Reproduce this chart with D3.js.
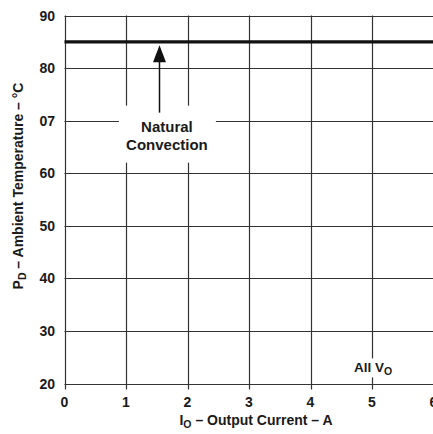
<!DOCTYPE html>
<html><head><meta charset="utf-8">
<script src="https://cdn.jsdelivr.net/npm/d3@7"></script>
<style>body{margin:0;background:#fff}svg{display:block}text{font-family:"Liberation Sans",Arial,Helvetica,sans-serif;font-weight:bold;fill:#1a1a1a}</style>
</head><body><svg id="c" width="433" height="434"></svg>
<script>
const xTicks = [0,1,2,3,4,5,6];
const xTickLabels = ["0","1","2","3","4","5","6"];
const yTicks = [20,30,40,50,60,70,80,90];
const yTickLabels = ["20","30","40","50","60","07","80","90"];
const seriesX = [0,6];
const seriesY = [85,85];
const annotX = 1.6, annotYText = 70, annotYTip = 85;
const annotLines = ["Natural","Convection"];
const allVoX = 5.05, allVoY = 22.3;

const svg = d3.select("#c");
const x = d3.scaleLinear().domain([0,6]).range([64.5,433.5]);
const y = d3.scaleLinear().domain([20,90]).range([383.5,15.5]);

// grid
const g = svg.append("g");
g.selectAll(".vx").data(xTicks).join("line")
  .attr("x1",d=>Math.round(x(d))+0.5).attr("x2",d=>Math.round(x(d))+0.5)
  .attr("y1",y(90)).attr("y2",y(20)+6).attr("stroke","#333").attr("stroke-width",1.2);
g.selectAll(".hy").data(yTicks).join("line")
  .attr("x1",x(0)).attr("x2",x(6)).attr("y1",d=>Math.round(y(d))+0.5).attr("y2",d=>Math.round(y(d))+0.5)
  .attr("stroke","#333").attr("stroke-width",1.2);

// white box behind annotation
svg.append("rect").attr("x",x(annotX)-44).attr("y",y(annotYText)-15).attr("width",97).attr("height",57).attr("fill","#fff");
// white box behind All VO
svg.append("rect").attr("x",x(allVoX)-18).attr("y",y(allVoY)-13).attr("width",42).attr("height",19).attr("fill","#fff");

// series line
svg.append("path").datum(seriesX.map((v,i)=>[v,seriesY[i]]))
  .attr("d",d3.line().x(d=>x(d[0])).y(d=>y(d[1])))
  .attr("stroke","#111").attr("stroke-width",3.2).attr("fill","none");

// arrow
const ax = Math.round(x(annotX)-4)+0.5;
svg.append("line").attr("x1",ax).attr("x2",ax).attr("y1",y(annotYText)-8).attr("y2",y(annotYTip)+18)
  .attr("stroke","#111").attr("stroke-width",1.5);
const tip = y(annotYTip)+3.5;
svg.append("path").attr("d",`M${ax},${tip} L${ax-6.5},${tip+17} L${ax+6.5},${tip+17} Z`).attr("fill","#111");

// annotation text
const tx = x(annotX)+4;
svg.append("text").attr("x",tx).attr("y",132).attr("text-anchor","middle").style("font-size","15px").text(annotLines[0]);
svg.append("text").attr("x",tx).attr("y",150).attr("text-anchor","middle").style("font-size","15px").text(annotLines[1]);

// All VO
const av = svg.append("text").attr("x",354).attr("y",372).style("font-size","13.5px");
av.append("tspan").text("All V");
av.append("tspan").attr("dy",3).style("font-size","10.5px").text("O");

// tick labels
svg.selectAll(".yl").data(yTicks).join("text")
  .attr("x",55).attr("y",d=>y(d)+5).attr("text-anchor","end").style("font-size","14px")
  .text((d,i)=>yTickLabels[i]);
svg.selectAll(".xl").data(xTicks).join("text")
  .attr("x",d=>x(d)).attr("y",407).attr("text-anchor","middle").style("font-size","14px")
  .text((d,i)=>xTickLabels[i]);

// axis titles
const xt = svg.append("text").attr("x",256).attr("y",425).attr("text-anchor","middle").style("font-size","14px");
xt.append("tspan").text("I");
xt.append("tspan").attr("dy",3).style("font-size","10.5px").text("O");
xt.append("tspan").attr("dy",-3).text(" – Output Current – A");

const yt = svg.append("text").attr("transform","translate(23,186) rotate(-90)").attr("text-anchor","middle").style("font-size","14px");
yt.append("tspan").text("P");
yt.append("tspan").attr("dy",3).style("font-size","10.5px").text("D");
yt.append("tspan").attr("dy",-3).text(" – Ambient Temperature – °C");
</script></body></html>
